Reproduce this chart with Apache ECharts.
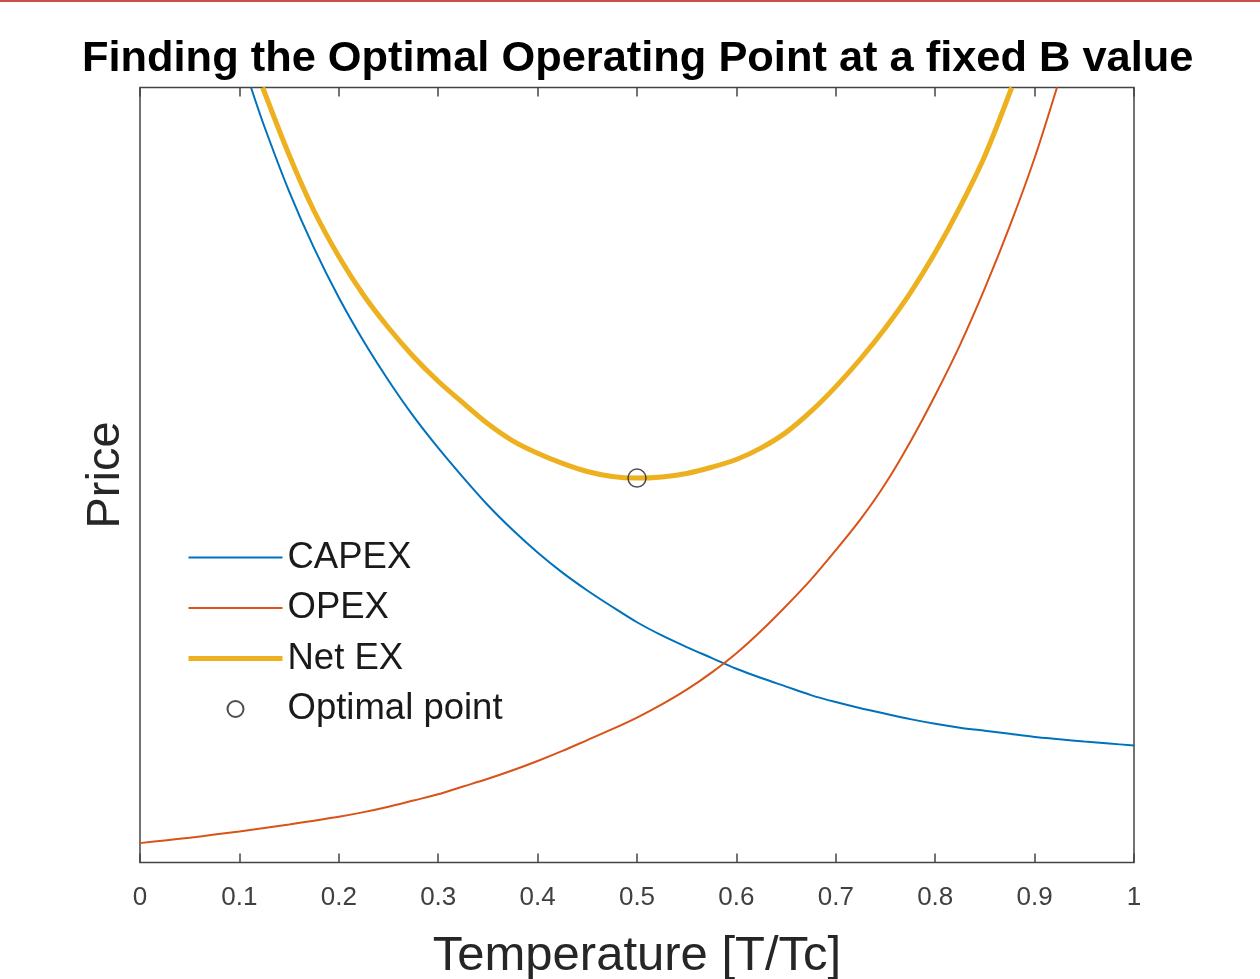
<!DOCTYPE html>
<html>
<head>
<meta charset="utf-8">
<script src="https://cdn.jsdelivr.net/npm/echarts@6/dist/echarts.min.js"></script>
<style>
html, body { margin: 0; padding: 0; background: #fff; }
#main { width: 1260px; height: 979px; }
</style>
</head>
<body>
<div id="main"></div>
<script>
// values (price has no scale, 0..100 = bottom..top of the box)
var capexT = [0.1117, 0.125, 0.15, 0.175, 0.2, 0.225, 0.25, 0.275, 0.3, 0.325, 0.35, 0.375, 0.4, 0.425, 0.45, 0.475, 0.5,
              0.525, 0.55, 0.575, 0.6, 0.625, 0.65, 0.675, 0.7, 0.725, 0.75, 0.775, 0.8, 0.825, 0.85, 0.875, 0.9, 0.925, 0.95, 0.975, 1.0];
var capex  = [100, 95.0, 86.6, 79.3, 72.9, 67.25, 62.2, 57.6, 53.5, 49.7, 46.1, 42.9, 40.0, 37.4, 35.1, 33.0, 31.0,
              29.3, 27.8, 26.4, 25.0, 23.8, 22.7, 21.6, 20.7, 19.9, 19.2, 18.5, 17.9, 17.4, 17.0, 16.6, 16.2, 15.9, 15.6, 15.35, 15.1];

var opexT = [0, 0.025, 0.05, 0.075, 0.1, 0.125, 0.15, 0.175, 0.2, 0.225, 0.25, 0.275, 0.3, 0.325, 0.35, 0.375, 0.4, 0.425, 0.45,
             0.475, 0.5, 0.525, 0.55, 0.575, 0.6, 0.625, 0.65, 0.675, 0.7, 0.725, 0.75, 0.775, 0.8, 0.825, 0.85, 0.875, 0.9, 0.9225];
var opex  = [2.5, 2.85, 3.2, 3.6, 4.0, 4.45, 4.9, 5.4, 5.9, 6.5, 7.2, 8.0, 8.8, 9.8, 10.8, 11.9, 13.1, 14.4, 15.8,
             17.2, 18.7, 20.4, 22.3, 24.5, 27.0, 29.9, 33.1, 36.5, 40.3, 44.3, 48.9, 54.3, 60.3, 66.8, 74.1, 82.1, 90.9, 100];

var netT = [0.1234, 0.15, 0.175, 0.2, 0.225, 0.25, 0.275, 0.3, 0.325, 0.35, 0.375, 0.4, 0.425, 0.45, 0.475, 0.5,
            0.525, 0.55, 0.575, 0.6, 0.625, 0.65, 0.675, 0.7, 0.725, 0.75, 0.775, 0.8, 0.825, 0.85, 0.877];
var net  = [100, 91.3, 84.1, 78.2, 73.2, 69.0, 65.3, 62.1, 59.3, 56.6, 54.4, 52.8, 51.5, 50.45, 49.8, 49.6,
            49.75, 50.2, 51.0, 52.0, 53.5, 55.5, 58.2, 61.4, 65.0, 69.0, 73.5, 78.7, 84.6, 91.2, 100];

var optimal = [0.5, 49.6];

function pairs(xs, ys) {
    var out = [];
    for (var i = 0; i < xs.length; i++) out.push([xs[i], ys[i]]);
    return out;
}

var FONT = '"Liberation Sans", Arial, Helvetica, sans-serif';
var AX = '#444';
var hideDot = { opacity: 0 };

var chart = echarts.init(document.getElementById('main'));
var option = {
    backgroundColor: '#fff',
    animation: false,
    title: {
        text: 'Finding the Optimal Operating Point at a fixed B value',
        left: 77,
        top: 33,
        textStyle: { fontFamily: FONT, fontSize: 43.4, fontWeight: 'bold', color: '#000' }
    },
    grid: {
        left: 140, right: 126, top: 87.5, bottom: 116.5,
        outerBoundsMode: 'none',
        containLabel: false,
        show: true, borderColor: AX, borderWidth: 1.5, backgroundColor: 'transparent'
    },
    legend: {
        orient: 'vertical',
        left: 186,
        top: 539,
        padding: 0,
        itemWidth: 94,
        itemHeight: 16,
        itemGap: 13.5,
        textStyle: { fontFamily: FONT, fontSize: 36.5, color: '#1a1a1a' },
        data: [
            { name: 'CAPEX', itemStyle: hideDot },
            { name: 'OPEX', itemStyle: hideDot },
            { name: 'Net EX', itemStyle: hideDot, lineStyle: { width: 5 } },
            'Optimal point'
        ]
    },
    xAxis: [{
        type: 'value',
        min: 0, max: 1, interval: 0.1,
        name: 'Temperature [T/Tc]',
        nameLocation: 'middle',
        nameGap: 69,
        nameTextStyle: { fontFamily: FONT, fontSize: 49, color: '#262626' },
        axisLine: { show: false },
        axisTick: { show: true, inside: true, length: 9, lineStyle: { color: AX, width: 1.5 } },
        axisLabel: { fontFamily: FONT, fontSize: 26, color: '#404040', margin: 22 },
        splitLine: { show: false }
    }, {
        type: 'value',
        position: 'top',
        min: 0, max: 1, interval: 0.1,
        axisLine: { show: false },
        axisTick: { show: true, inside: true, length: 9, lineStyle: { color: AX, width: 1.5 } },
        axisLabel: { show: false },
        splitLine: { show: false }
    }],
    yAxis: {
        type: 'value',
        min: 0, max: 100,
        name: 'Price',
        nameLocation: 'middle',
        nameGap: 10,
        nameTextStyle: { fontFamily: FONT, fontSize: 47, color: '#262626' },
        axisLine: { show: false },
        axisTick: { show: false },
        axisLabel: { show: false },
        splitLine: { show: false }
    },
    series: [{
        name: 'CAPEX',
        type: 'line',
        data: pairs(capexT, capex),
        smooth: 0.3,
        symbol: 'none',
        lineStyle: { color: '#0072BD', width: 2 },
        itemStyle: { color: '#0072BD' }
    }, {
        name: 'OPEX',
        type: 'line',
        data: pairs(opexT, opex),
        smooth: 0.3,
        symbol: 'none',
        lineStyle: { color: '#D95319', width: 2 },
        itemStyle: { color: '#D95319' }
    }, {
        name: 'Net EX',
        type: 'line',
        data: pairs(netT, net),
        smooth: 0.3,
        symbol: 'none',
        lineStyle: { color: '#EDB120', width: 5 },
        itemStyle: { color: '#EDB120' }
    }, {
        name: 'Optimal point',
        type: 'scatter',
        data: [optimal],
        symbol: 'circle',
        symbolSize: 18,
        itemStyle: { color: 'rgba(0,0,0,0)', borderColor: '#222', borderWidth: 1.5 },
        z: 5
    }],
    graphic: [{
        type: 'rect',
        left: 0, top: 0,
        shape: { width: 1260, height: 2 },
        style: { fill: '#d24b4b' }
    }]
};
chart.setOption(option);
window.onresize = chart.resize;
</script>
</body>
</html>
